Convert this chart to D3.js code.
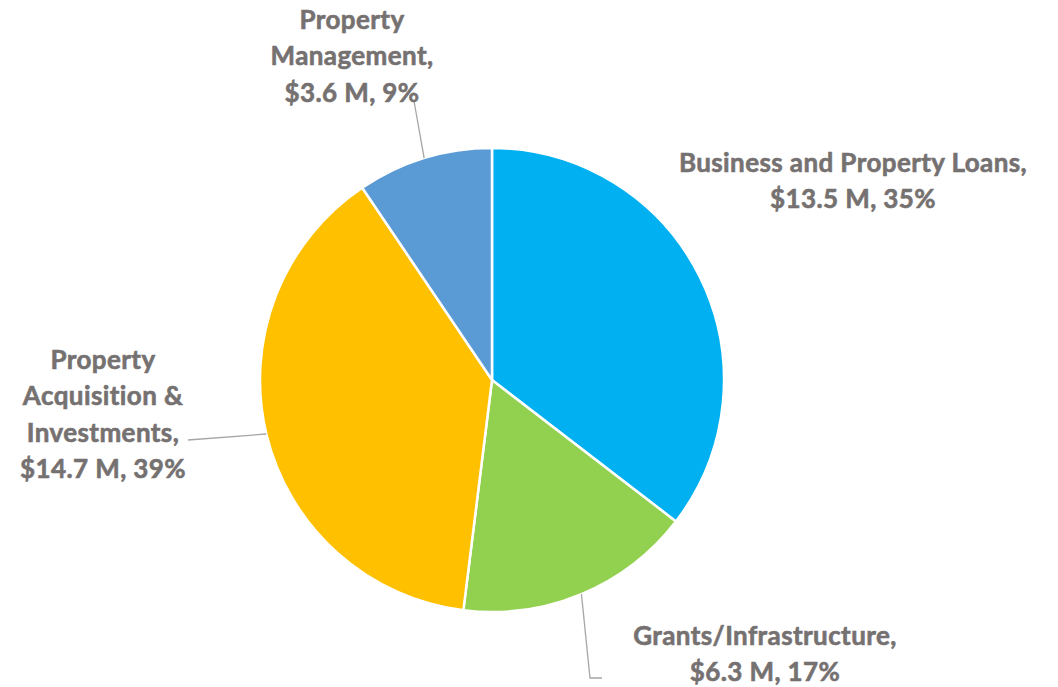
<!DOCTYPE html>
<html>
<head>
<meta charset="utf-8">
<script src="https://cdn.jsdelivr.net/npm/d3@7"></script>
<style>
  body { margin: 0; background: #fff; }
  text { font-family: Lato, "Open Sans", sans-serif; font-weight: 700; }
</style>
</head>
<body>
<div class="chart"></div>
<script>
const categories = ['Business and Property Loans', 'Grants/Infrastructure', 'Property Acquisition & Investments', 'Property Management'];
const amounts = [13.5, 6.3, 14.7, 3.6];
const percents = ['35%', '17%', '39%', '9%'];
const labelLines = [
  ['Business and Property Loans,', '$13.5 M, 35%'],
  ['Grants/Infrastructure,', '$6.3 M, 17%'],
  ['Property', 'Acquisition &', 'Investments,', '$14.7 M, 39%'],
  ['Property', 'Management,', '$3.6 M, 9%']
];
const colors = ['#00B0F0', '#92D050', '#FFC000', '#5B9BD5'];

const width = 1058;
const height = 687;
const cx = 492, cy = 380, radius = 232;

// label placement (center x, first line y) and leader end points
const labelPos = [
  { x: 853, y: 172, leader: null },
  { x: 765, y: 645, leader: [[590, 678], [602, 678]] },
  { x: 103, y: 369, leader: [[188, 440]] },
  { x: 352, y: 29, leader: [[414, 101]] }
];
const lineHeight = 36.3;

const svg = d3.select('.chart')
  .append('svg')
  .attr('width', width)
  .attr('height', height);

const graph = svg.append('g')
  .attr('transform', `translate(${cx}, ${cy})`);

const pie = d3.pie().sort(null).value(d => d.value);
const arc = d3.arc().innerRadius(0).outerRadius(radius);

const data = categories.map((c, i) => ({ name: c, value: amounts[i], pct: percents[i], lines: labelLines[i] }));
const arcs = pie(data);

graph.selectAll('path')
  .data(arcs)
  .enter()
  .append('path')
  .attr('d', arc)
  .attr('fill', (d, i) => colors[i])
  .attr('stroke', '#fff')
  .attr('stroke-width', 2.5);

// leader lines
arcs.forEach((d, i) => {
  const pos = labelPos[i];
  if (!pos.leader) return;
  const mid = (d.startAngle + d.endAngle) / 2;
  const start = [cx + radius * Math.sin(mid), cy - radius * Math.cos(mid)];
  const pts = [start].concat(pos.leader);
  svg.append('path')
    .attr('d', d3.line()(pts))
    .attr('fill', 'none')
    .attr('stroke', '#A6A6A6')
    .attr('stroke-width', 1.3);
});

// labels
const labels = svg.selectAll('text.label')
  .data(arcs)
  .enter()
  .append('text')
  .attr('class', 'label')
  .attr('text-anchor', 'middle')
  .attr('fill', '#767171')
  .attr('stroke', '#767171')
  .attr('stroke-width', 0.6)
  .attr('font-size', 26)
  .attr('letter-spacing', 0.4);

labels.each(function (d, i) {
  const pos = labelPos[i];
  d3.select(this).selectAll('tspan')
    .data(d.data.lines)
    .enter()
    .append('tspan')
    .attr('x', pos.x)
    .attr('y', (t, j) => pos.y + j * lineHeight)
    .text(t => t);
});
</script>
</body>
</html>
